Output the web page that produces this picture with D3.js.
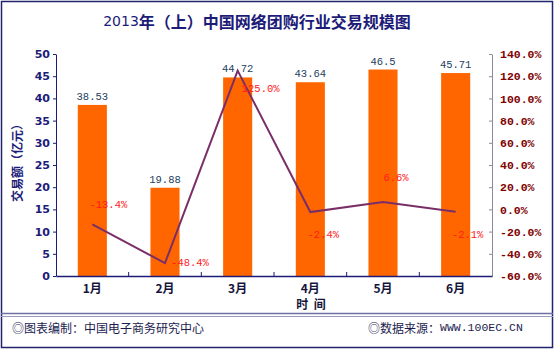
<!DOCTYPE html>
<html><head><meta charset="utf-8">
<script src="https://cdn.jsdelivr.net/npm/d3@7/dist/d3.min.js"></script>
<style>
body{margin:0;background:#fff;}
svg{display:block;}
</style></head>
<body>
<svg id="chart" width="554" height="349"></svg>
<script>
const months = ["1月","2月","3月","4月","5月","6月"];
const volume = [38.53, 19.88, 44.72, 43.64, 46.5, 45.71];
const growth = [-13.4, -48.4, 125.0, -2.4, 6.6, -2.1];
const volumeLabels = ["38.53","19.88","44.72","43.64","46.5","45.71"];
const leftTicks = [0,5,10,15,20,25,30,35,40,45,50];
const rightTicks = [-60,-40,-20,0,20,40,60,80,100,120,140];
const growthLabelOffsets = [[16,-19],[25,0],[23,18],[13,23],[13,-24],[12,23]];

const svg = d3.select("#chart");
const W = 554, H = 349;
const plot = {left:56, right:492, top:54, bottom:276};

// frame
svg.append("rect").attr("x",1.5).attr("y",1.5).attr("width",W-3).attr("height",H-3)
  .attr("fill","#fff").attr("stroke","#22226e").attr("stroke-width",1.5);
svg.append("line").attr("x1",1).attr("x2",W-1).attr("y1",313.5).attr("y2",313.5).attr("stroke","#6f6fa8").attr("stroke-width",1.5);
svg.append("line").attr("x1",1).attr("x2",W-1).attr("y1",316.5).attr("y2",316.5).attr("stroke","#9a9ac4").attr("stroke-width",1);

// title
const title = svg.append("text").attr("x",257).attr("y",21).attr("text-anchor","middle")
  .attr("dominant-baseline","central").attr("fill","#1c1c78")
  .style("font-family","'Noto Sans CJK SC', sans-serif").style("font-size","16px");
title.append("tspan").attr("font-weight","normal").style("font-family","'DejaVu Sans', sans-serif").style("font-size","14px").text("2013");
title.append("tspan").attr("font-weight","bold").text("年（上）中国网络团购行业交易规模图");

// scales
const x = d3.scaleBand().domain(months).range([plot.left, plot.right]).paddingInner(0.6).paddingOuter(0.3);
const y = d3.scaleLinear().domain([0,50]).range([plot.bottom, plot.top]);
const y2 = d3.scaleLinear().domain([-60,140]).range([plot.bottom, plot.top]);

// bars
svg.append("g").selectAll("rect").data(volume).join("rect")
  .attr("x",(d,i)=>x(months[i])).attr("width",x.bandwidth())
  .attr("y",d=>y(d)).attr("height",d=>y(0)-y(d)).attr("fill","#ff6600");

// bar labels
svg.append("g").selectAll("text").data(volume).join("text")
  .attr("x",(d,i)=>x(months[i])+x.bandwidth()/2).attr("y",d=>y(d)-5)
  .attr("text-anchor","middle").attr("fill","#23405e")
  .style("font-family","'Liberation Mono', monospace").style("font-size","10.5px")
  .text((d,i)=>volumeLabels[i]);

// line
const cx = i => x(months[i]) + x.bandwidth()/2;
const line = d3.line().x((d,i)=>cx(i)).y(d=>y2(d));
svg.append("path").datum(growth).attr("d",line).attr("fill","none")
  .attr("stroke","#7a2e68").attr("stroke-width",2);

// growth labels
svg.append("g").selectAll("text").data(growth).join("text")
  .attr("x",(d,i)=>cx(i)+growthLabelOffsets[i][0]).attr("y",(d,i)=>y2(d)+growthLabelOffsets[i][1])
  .attr("text-anchor","middle").attr("dominant-baseline","central").attr("fill","#ff1a1a")
  .style("font-family","'Liberation Mono', monospace").style("font-size","10.5px")
  .text(d=>d.toFixed(1)+"%");

// left axis
const gl = svg.append("g").attr("transform",`translate(${plot.left},0)`)
  .call(d3.axisLeft(y).tickValues(leftTicks).tickSize(3).tickPadding(3).tickSizeOuter(0));
gl.select(".domain").attr("stroke","#1c1c78");
gl.selectAll(".tick line").attr("stroke","#1c1c78");
gl.selectAll("text").attr("fill","#1c1c78").style("font-family","'DejaVu Sans', sans-serif")
  .style("font-size","11px").style("font-weight","bold");

// right axis
const gr = svg.append("g").attr("transform",`translate(${plot.right},0)`)
  .call(d3.axisRight(y2).tickValues(rightTicks).tickSize(-3).tickPadding(8).tickSizeOuter(0)
    .tickFormat(d=>d.toFixed(1)+"%"));
gr.select(".domain").attr("stroke","#8a8a9a");
gr.selectAll(".tick line").attr("stroke","#8a8a9a");
gr.selectAll("text").attr("fill","#800000").style("font-family","'Liberation Mono', monospace")
  .style("font-size","11.5px").style("font-weight","bold");

// bottom axis
const gb = svg.append("g").attr("transform",`translate(0,${plot.bottom})`)
  .call(d3.axisBottom(x).tickSize(0).tickPadding(8).tickSizeOuter(0));
gb.select(".domain").attr("stroke","#1c1c78").attr("stroke-width",1.5);
gb.selectAll("text").attr("fill","#14143c").style("font-family","'Noto Sans CJK SC', sans-serif")
  .style("font-size","12px").style("font-weight","bold");
const step = x.step();
const bounds = months.slice(0,-1).map((m,i)=>cx(i)+step/2);
gb.selectAll(".bnd").data(bounds).join("line").attr("class","bnd")
  .attr("x1",d=>d).attr("x2",d=>d).attr("y1",0).attr("y2",-4).attr("stroke","#1c1c78");

// axis titles
svg.append("text").attr("x",311).attr("y",303).attr("text-anchor","middle").attr("dominant-baseline","central")
  .attr("fill","#14143c").style("font-family","'Noto Sans CJK SC', sans-serif")
  .style("font-size","12px").style("font-weight","bold").style("white-space","pre").text("时\u00a0\u00a0间");
svg.append("text").attr("transform","translate(16,160) rotate(-90)").attr("text-anchor","middle")
  .attr("dominant-baseline","central").attr("fill","#1c1c78")
  .style("font-family","'Noto Sans CJK SC', sans-serif").style("font-size","12px").style("font-weight","bold")
  .text("交易额（亿元）");

// footer
svg.append("text").attr("x",12).attr("y",327).attr("dominant-baseline","central").attr("fill","#1c1c50")
  .style("font-family","'Noto Sans CJK SC', sans-serif").style("font-size","12px").text("◎图表编制：中国电子商务研究中心");
svg.append("text").attr("x",368).attr("y",327).attr("dominant-baseline","central").attr("fill","#1c1c50")
  .style("font-family","'Noto Sans CJK SC', sans-serif").style("font-size","12px")
  .text("◎数据来源：")
  .append("tspan").style("font-family","'Liberation Mono', monospace").style("font-size","11.5px").text("WWW.100EC.CN");
</script>
</body></html>
